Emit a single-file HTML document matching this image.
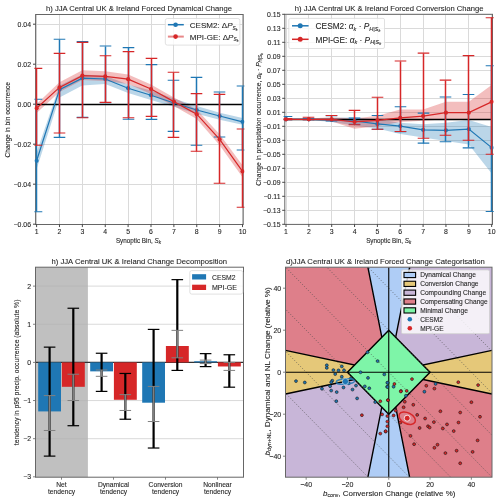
<!DOCTYPE html>
<html><head><meta charset="utf-8"><style>
html,body{margin:0;padding:0;background:#fff;}
svg{display:block;font-family:"Liberation Sans", sans-serif;will-change:transform;}
text{stroke:#262626;stroke-width:0.1px;}
</style></head><body>
<svg width="500" height="503" viewBox="0 0 500 503">
<rect width="500" height="503" fill="#fff"/>
<clipPath id="cA"><rect x="35.6" y="14.5" width="207.6" height="210"/></clipPath>
<clipPath id="cAx"><rect x="34.4" y="14.5" width="210" height="210"/></clipPath>
<line x1="36.5" y1="14.5" x2="36.5" y2="224.5" stroke="#dadada" stroke-width="1" />
<line x1="59.5" y1="14.5" x2="59.5" y2="224.5" stroke="#dadada" stroke-width="1" />
<line x1="82.5" y1="14.5" x2="82.5" y2="224.5" stroke="#dadada" stroke-width="1" />
<line x1="105.5" y1="14.5" x2="105.5" y2="224.5" stroke="#dadada" stroke-width="1" />
<line x1="128.5" y1="14.5" x2="128.5" y2="224.5" stroke="#dadada" stroke-width="1" />
<line x1="151.5" y1="14.5" x2="151.5" y2="224.5" stroke="#dadada" stroke-width="1" />
<line x1="173.5" y1="14.5" x2="173.5" y2="224.5" stroke="#dadada" stroke-width="1" />
<line x1="196.5" y1="14.5" x2="196.5" y2="224.5" stroke="#dadada" stroke-width="1" />
<line x1="219.5" y1="14.5" x2="219.5" y2="224.5" stroke="#dadada" stroke-width="1" />
<line x1="242.5" y1="14.5" x2="242.5" y2="224.5" stroke="#dadada" stroke-width="1" />
<line x1="35.6" y1="224.5" x2="243.2" y2="224.5" stroke="#dadada" stroke-width="1" />
<line x1="35.6" y1="184.5" x2="243.2" y2="184.5" stroke="#dadada" stroke-width="1" />
<line x1="35.6" y1="144.5" x2="243.2" y2="144.5" stroke="#dadada" stroke-width="1" />
<line x1="35.6" y1="104.5" x2="243.2" y2="104.5" stroke="#dadada" stroke-width="1" />
<line x1="35.6" y1="64.5" x2="243.2" y2="64.5" stroke="#dadada" stroke-width="1" />
<line x1="35.6" y1="24.5" x2="243.2" y2="24.5" stroke="#dadada" stroke-width="1" />
<g clip-path="url(#cA)">
<polygon points="36.6,152.4 59.48,85.52 82.36,74.6 105.24,75.64 128.12,84.6 151,90.4 173.88,98.44 196.76,105.92 219.64,112.64 242.52,117.96 242.52,124.68 219.64,119.84 196.76,113.84 173.88,106.84 151,100 128.12,93 105.24,84.04 82.36,85.4 59.48,97.52 36.6,169.2" fill="#1f77b4" fill-opacity="0.3"/>
<polygon points="36.6,104.12 59.48,82.36 82.36,70.32 105.24,71.36 128.12,74.4 151,84.44 173.88,97.52 196.76,109.4 219.64,134.36 242.52,165.16 242.52,177.16 219.64,145.16 196.76,119 173.88,105.92 151,94.04 128.12,84 105.24,80.96 82.36,79.92 59.48,91.96 36.6,113" fill="#d62728" fill-opacity="0.3"/>
<line x1="35.6" y1="104.5" x2="243.2" y2="104.5" stroke="#000" stroke-width="1.3" />
</g>
<rect x="35.6" y="14.5" width="207.6" height="210" fill="none" stroke="#666666" stroke-width="1"/>
<g clip-path="url(#cAx)">
<polyline points="36.6,160.8 59.48,89.6 82.36,78.2 105.24,79 128.12,88.2 151,95.2 173.88,103 196.76,110 219.64,116 242.52,121.8" fill="none" stroke="#1f77b4" stroke-width="1.2"/>
<line x1="36.5" y1="99.5" x2="36.5" y2="211.5" stroke="#1f77b4" stroke-width="1.5" />
<line x1="30.7" y1="99.2" x2="42.3" y2="99.2" stroke="#1f77b4" stroke-width="1.1" />
<line x1="30.7" y1="211.8" x2="42.3" y2="211.8" stroke="#1f77b4" stroke-width="1.1" />
<circle cx="36.6" cy="160.8" r="2.1" fill="#1f77b4"/>
<line x1="59.5" y1="39.5" x2="59.5" y2="137.5" stroke="#1f77b4" stroke-width="1.5" />
<line x1="53.7" y1="39.2" x2="65.3" y2="39.2" stroke="#1f77b4" stroke-width="1.1" />
<line x1="53.7" y1="137.4" x2="65.3" y2="137.4" stroke="#1f77b4" stroke-width="1.1" />
<circle cx="59.48" cy="89.6" r="2.1" fill="#1f77b4"/>
<line x1="82.5" y1="41.5" x2="82.5" y2="117.5" stroke="#1f77b4" stroke-width="1.5" />
<line x1="76.7" y1="41.6" x2="88.3" y2="41.6" stroke="#1f77b4" stroke-width="1.1" />
<line x1="76.7" y1="117.4" x2="88.3" y2="117.4" stroke="#1f77b4" stroke-width="1.1" />
<circle cx="82.36" cy="78.2" r="2.1" fill="#1f77b4"/>
<line x1="105.5" y1="46.5" x2="105.5" y2="102.5" stroke="#1f77b4" stroke-width="1.5" />
<line x1="99.7" y1="46" x2="111.3" y2="46" stroke="#1f77b4" stroke-width="1.1" />
<line x1="99.7" y1="102.8" x2="111.3" y2="102.8" stroke="#1f77b4" stroke-width="1.1" />
<circle cx="105.24" cy="79" r="2.1" fill="#1f77b4"/>
<line x1="128.5" y1="47.5" x2="128.5" y2="119.5" stroke="#1f77b4" stroke-width="1.5" />
<line x1="122.7" y1="47.6" x2="134.3" y2="47.6" stroke="#1f77b4" stroke-width="1.1" />
<line x1="122.7" y1="119.2" x2="134.3" y2="119.2" stroke="#1f77b4" stroke-width="1.1" />
<circle cx="128.12" cy="88.2" r="2.1" fill="#1f77b4"/>
<line x1="151.5" y1="64.5" x2="151.5" y2="119.5" stroke="#1f77b4" stroke-width="1.5" />
<line x1="145.7" y1="64.6" x2="157.3" y2="64.6" stroke="#1f77b4" stroke-width="1.1" />
<line x1="145.7" y1="119.4" x2="157.3" y2="119.4" stroke="#1f77b4" stroke-width="1.1" />
<circle cx="151" cy="95.2" r="2.1" fill="#1f77b4"/>
<line x1="173.5" y1="80.5" x2="173.5" y2="131.5" stroke="#1f77b4" stroke-width="1.5" />
<line x1="167.7" y1="80.2" x2="179.3" y2="80.2" stroke="#1f77b4" stroke-width="1.1" />
<line x1="167.7" y1="131.4" x2="179.3" y2="131.4" stroke="#1f77b4" stroke-width="1.1" />
<circle cx="173.88" cy="103" r="2.1" fill="#1f77b4"/>
<line x1="196.5" y1="77.5" x2="196.5" y2="145.5" stroke="#1f77b4" stroke-width="1.5" />
<line x1="190.7" y1="77.4" x2="202.3" y2="77.4" stroke="#1f77b4" stroke-width="1.1" />
<line x1="190.7" y1="145.2" x2="202.3" y2="145.2" stroke="#1f77b4" stroke-width="1.1" />
<circle cx="196.76" cy="110" r="2.1" fill="#1f77b4"/>
<line x1="219.5" y1="92.5" x2="219.5" y2="137.5" stroke="#1f77b4" stroke-width="1.5" />
<line x1="213.7" y1="92" x2="225.3" y2="92" stroke="#1f77b4" stroke-width="1.1" />
<line x1="213.7" y1="137" x2="225.3" y2="137" stroke="#1f77b4" stroke-width="1.1" />
<circle cx="219.64" cy="116" r="2.1" fill="#1f77b4"/>
<line x1="242.5" y1="86.5" x2="242.5" y2="150.5" stroke="#1f77b4" stroke-width="1.5" />
<line x1="236.7" y1="86" x2="248.3" y2="86" stroke="#1f77b4" stroke-width="1.1" />
<line x1="236.7" y1="150" x2="248.3" y2="150" stroke="#1f77b4" stroke-width="1.1" />
<circle cx="242.52" cy="121.8" r="2.1" fill="#1f77b4"/>
<polyline points="36.6,108.2 59.48,87.4 82.36,75.6 105.24,76.4 128.12,79.2 151,89 173.88,101.6 196.76,114.2 219.64,139.4 242.52,171.4" fill="none" stroke="#d62728" stroke-width="1.2"/>
<line x1="36.5" y1="68.5" x2="36.5" y2="145.5" stroke="#d62728" stroke-width="1.5" />
<line x1="30.7" y1="68.4" x2="42.3" y2="68.4" stroke="#d62728" stroke-width="1.1" />
<line x1="30.7" y1="145.2" x2="42.3" y2="145.2" stroke="#d62728" stroke-width="1.1" />
<circle cx="36.6" cy="108.2" r="2.1" fill="#d62728"/>
<line x1="59.5" y1="53.5" x2="59.5" y2="133.5" stroke="#d62728" stroke-width="1.5" />
<line x1="53.7" y1="53.4" x2="65.3" y2="53.4" stroke="#d62728" stroke-width="1.1" />
<line x1="53.7" y1="133" x2="65.3" y2="133" stroke="#d62728" stroke-width="1.1" />
<circle cx="59.48" cy="87.4" r="2.1" fill="#d62728"/>
<line x1="82.5" y1="42.5" x2="82.5" y2="117.5" stroke="#d62728" stroke-width="1.5" />
<line x1="76.7" y1="42.4" x2="88.3" y2="42.4" stroke="#d62728" stroke-width="1.1" />
<line x1="76.7" y1="117.8" x2="88.3" y2="117.8" stroke="#d62728" stroke-width="1.1" />
<circle cx="82.36" cy="75.6" r="2.1" fill="#d62728"/>
<line x1="105.5" y1="55.5" x2="105.5" y2="102.5" stroke="#d62728" stroke-width="1.5" />
<line x1="99.7" y1="55.8" x2="111.3" y2="55.8" stroke="#d62728" stroke-width="1.1" />
<line x1="99.7" y1="102.4" x2="111.3" y2="102.4" stroke="#d62728" stroke-width="1.1" />
<circle cx="105.24" cy="76.4" r="2.1" fill="#d62728"/>
<line x1="128.5" y1="51.5" x2="128.5" y2="117.5" stroke="#d62728" stroke-width="1.5" />
<line x1="122.7" y1="51.6" x2="134.3" y2="51.6" stroke="#d62728" stroke-width="1.1" />
<line x1="122.7" y1="117.8" x2="134.3" y2="117.8" stroke="#d62728" stroke-width="1.1" />
<circle cx="128.12" cy="79.2" r="2.1" fill="#d62728"/>
<line x1="151.5" y1="58.5" x2="151.5" y2="116.5" stroke="#d62728" stroke-width="1.5" />
<line x1="145.7" y1="58.4" x2="157.3" y2="58.4" stroke="#d62728" stroke-width="1.1" />
<line x1="145.7" y1="116.4" x2="157.3" y2="116.4" stroke="#d62728" stroke-width="1.1" />
<circle cx="151" cy="89" r="2.1" fill="#d62728"/>
<line x1="173.5" y1="72.5" x2="173.5" y2="137.5" stroke="#d62728" stroke-width="1.5" />
<line x1="167.7" y1="72.2" x2="179.3" y2="72.2" stroke="#d62728" stroke-width="1.1" />
<line x1="167.7" y1="137.4" x2="179.3" y2="137.4" stroke="#d62728" stroke-width="1.1" />
<circle cx="173.88" cy="101.6" r="2.1" fill="#d62728"/>
<line x1="196.5" y1="93.5" x2="196.5" y2="151.5" stroke="#d62728" stroke-width="1.5" />
<line x1="190.7" y1="93.6" x2="202.3" y2="93.6" stroke="#d62728" stroke-width="1.1" />
<line x1="190.7" y1="151.2" x2="202.3" y2="151.2" stroke="#d62728" stroke-width="1.1" />
<circle cx="196.76" cy="114.2" r="2.1" fill="#d62728"/>
<line x1="219.5" y1="94.5" x2="219.5" y2="183.5" stroke="#d62728" stroke-width="1.5" />
<line x1="213.7" y1="94.4" x2="225.3" y2="94.4" stroke="#d62728" stroke-width="1.1" />
<line x1="213.7" y1="183.2" x2="225.3" y2="183.2" stroke="#d62728" stroke-width="1.1" />
<circle cx="219.64" cy="139.4" r="2.1" fill="#d62728"/>
<line x1="242.5" y1="129.5" x2="242.5" y2="207.5" stroke="#d62728" stroke-width="1.5" />
<line x1="236.7" y1="129" x2="248.3" y2="129" stroke="#d62728" stroke-width="1.1" />
<line x1="236.7" y1="207.2" x2="248.3" y2="207.2" stroke="#d62728" stroke-width="1.1" />
<circle cx="242.52" cy="171.4" r="2.1" fill="#d62728"/>
</g>
<line x1="36.6" y1="224.5" x2="36.6" y2="227.1" stroke="#333333" stroke-width="0.9" />
<text x="36.6" y="234.1" font-size="6.9" text-anchor="middle" fill="#262626" >1</text>
<line x1="59.48" y1="224.5" x2="59.48" y2="227.1" stroke="#333333" stroke-width="0.9" />
<text x="59.48" y="234.1" font-size="6.9" text-anchor="middle" fill="#262626" >2</text>
<line x1="82.36" y1="224.5" x2="82.36" y2="227.1" stroke="#333333" stroke-width="0.9" />
<text x="82.36" y="234.1" font-size="6.9" text-anchor="middle" fill="#262626" >3</text>
<line x1="105.24" y1="224.5" x2="105.24" y2="227.1" stroke="#333333" stroke-width="0.9" />
<text x="105.24" y="234.1" font-size="6.9" text-anchor="middle" fill="#262626" >4</text>
<line x1="128.12" y1="224.5" x2="128.12" y2="227.1" stroke="#333333" stroke-width="0.9" />
<text x="128.12" y="234.1" font-size="6.9" text-anchor="middle" fill="#262626" >5</text>
<line x1="151" y1="224.5" x2="151" y2="227.1" stroke="#333333" stroke-width="0.9" />
<text x="151" y="234.1" font-size="6.9" text-anchor="middle" fill="#262626" >6</text>
<line x1="173.88" y1="224.5" x2="173.88" y2="227.1" stroke="#333333" stroke-width="0.9" />
<text x="173.88" y="234.1" font-size="6.9" text-anchor="middle" fill="#262626" >7</text>
<line x1="196.76" y1="224.5" x2="196.76" y2="227.1" stroke="#333333" stroke-width="0.9" />
<text x="196.76" y="234.1" font-size="6.9" text-anchor="middle" fill="#262626" >8</text>
<line x1="219.64" y1="224.5" x2="219.64" y2="227.1" stroke="#333333" stroke-width="0.9" />
<text x="219.64" y="234.1" font-size="6.9" text-anchor="middle" fill="#262626" >9</text>
<line x1="242.52" y1="224.5" x2="242.52" y2="227.1" stroke="#333333" stroke-width="0.9" />
<text x="242.52" y="234.1" font-size="6.9" text-anchor="middle" fill="#262626" >10</text>
<line x1="33" y1="224.2" x2="35.6" y2="224.2" stroke="#333333" stroke-width="0.9" />
<text x="31" y="227" font-size="6.9" text-anchor="end" fill="#262626" >−0.06</text>
<line x1="33" y1="184.2" x2="35.6" y2="184.2" stroke="#333333" stroke-width="0.9" />
<text x="31" y="187" font-size="6.9" text-anchor="end" fill="#262626" >−0.04</text>
<line x1="33" y1="144.2" x2="35.6" y2="144.2" stroke="#333333" stroke-width="0.9" />
<text x="31" y="147" font-size="6.9" text-anchor="end" fill="#262626" >−0.02</text>
<line x1="33" y1="104.2" x2="35.6" y2="104.2" stroke="#333333" stroke-width="0.9" />
<text x="31" y="107" font-size="6.9" text-anchor="end" fill="#262626" >0.00</text>
<line x1="33" y1="64.2" x2="35.6" y2="64.2" stroke="#333333" stroke-width="0.9" />
<text x="31" y="67" font-size="6.9" text-anchor="end" fill="#262626" >0.02</text>
<line x1="33" y1="24.2" x2="35.6" y2="24.2" stroke="#333333" stroke-width="0.9" />
<text x="31" y="27" font-size="6.9" text-anchor="end" fill="#262626" >0.04</text>
<text x="138.4" y="242.6" font-size="6.3" text-anchor="middle" fill="#262626" >Synoptic Bin, <tspan font-style="italic">S</tspan><tspan font-size="4.5" font-style="italic" dy="1.2">k</tspan></text>
<text x="10" y="119.7" font-size="6.3" text-anchor="middle" fill="#262626" textLength="75.5" lengthAdjust="spacingAndGlyphs" transform="rotate(-90 10 119.7)" >Change in bin occurrence</text>
<text x="46" y="11" font-size="8.1" text-anchor="start" fill="#262626" textLength="186" lengthAdjust="spacingAndGlyphs" >h) JJA Central UK &amp; Ireland Forced Dynamical Change</text>
<rect x="165.3" y="18.5" width="74.6" height="26.6" rx="2" fill="#ffffff" fill-opacity="0.8" stroke="#d9d9d9" stroke-width="0.8"/>
<line x1="167.9" y1="24.7" x2="183.8" y2="24.7" stroke="#1f77b4" stroke-width="1.5" />
<circle cx="175.6" cy="24.7" r="2.3" fill="#1f77b4"/>
<text x="189.8" y="27.7" font-size="8.0" text-anchor="start" fill="#262626" >CESM2: Δ<tspan font-style="italic">P</tspan><tspan font-size="5" font-style="italic" dy="1.8">S</tspan><tspan font-size="3.5" font-style="italic" dy="1">k</tspan></text>
<line x1="167.9" y1="36.6" x2="183.8" y2="36.6" stroke="#d62728" stroke-width="2.0" stroke-opacity="0.55"/>
<circle cx="175.6" cy="36.6" r="2.3" fill="#d62728"/>
<text x="189.8" y="39.6" font-size="8.0" text-anchor="start" fill="#262626" >MPI-GE: Δ<tspan font-style="italic">P</tspan><tspan font-size="5" font-style="italic" dy="1.8">S</tspan><tspan font-size="3.5" font-style="italic" dy="1">k</tspan></text>
<clipPath id="cB"><rect x="284.8" y="14.3" width="207.7" height="210.1"/></clipPath>
<clipPath id="cBx"><rect x="283.6" y="14.3" width="210.1" height="210.1"/></clipPath>
<line x1="286.5" y1="14.3" x2="286.5" y2="224.4" stroke="#dadada" stroke-width="1" />
<line x1="308.5" y1="14.3" x2="308.5" y2="224.4" stroke="#dadada" stroke-width="1" />
<line x1="331.5" y1="14.3" x2="331.5" y2="224.4" stroke="#dadada" stroke-width="1" />
<line x1="354.5" y1="14.3" x2="354.5" y2="224.4" stroke="#dadada" stroke-width="1" />
<line x1="377.5" y1="14.3" x2="377.5" y2="224.4" stroke="#dadada" stroke-width="1" />
<line x1="400.5" y1="14.3" x2="400.5" y2="224.4" stroke="#dadada" stroke-width="1" />
<line x1="423.5" y1="14.3" x2="423.5" y2="224.4" stroke="#dadada" stroke-width="1" />
<line x1="445.5" y1="14.3" x2="445.5" y2="224.4" stroke="#dadada" stroke-width="1" />
<line x1="468.5" y1="14.3" x2="468.5" y2="224.4" stroke="#dadada" stroke-width="1" />
<line x1="491.5" y1="14.3" x2="491.5" y2="224.4" stroke="#dadada" stroke-width="1" />
<line x1="284.8" y1="224.5" x2="492.5" y2="224.5" stroke="#dadada" stroke-width="1" />
<line x1="284.8" y1="210.5" x2="492.5" y2="210.5" stroke="#dadada" stroke-width="1" />
<line x1="284.8" y1="196.5" x2="492.5" y2="196.5" stroke="#dadada" stroke-width="1" />
<line x1="284.8" y1="182.5" x2="492.5" y2="182.5" stroke="#dadada" stroke-width="1" />
<line x1="284.8" y1="168.5" x2="492.5" y2="168.5" stroke="#dadada" stroke-width="1" />
<line x1="284.8" y1="154.5" x2="492.5" y2="154.5" stroke="#dadada" stroke-width="1" />
<line x1="284.8" y1="140.5" x2="492.5" y2="140.5" stroke="#dadada" stroke-width="1" />
<line x1="284.8" y1="126.5" x2="492.5" y2="126.5" stroke="#dadada" stroke-width="1" />
<line x1="284.8" y1="112.5" x2="492.5" y2="112.5" stroke="#dadada" stroke-width="1" />
<line x1="284.8" y1="98.5" x2="492.5" y2="98.5" stroke="#dadada" stroke-width="1" />
<line x1="284.8" y1="84.5" x2="492.5" y2="84.5" stroke="#dadada" stroke-width="1" />
<line x1="284.8" y1="70.5" x2="492.5" y2="70.5" stroke="#dadada" stroke-width="1" />
<line x1="284.8" y1="56.5" x2="492.5" y2="56.5" stroke="#dadada" stroke-width="1" />
<line x1="284.8" y1="42.5" x2="492.5" y2="42.5" stroke="#dadada" stroke-width="1" />
<line x1="284.8" y1="28.5" x2="492.5" y2="28.5" stroke="#dadada" stroke-width="1" />
<line x1="284.8" y1="14.5" x2="492.5" y2="14.5" stroke="#dadada" stroke-width="1" />
<g clip-path="url(#cB)">
<polygon points="286,118.6 308.85,118.6 331.7,117.9 354.55,117.2 377.4,119.3 400.25,122.8 423.1,124.2 445.95,122.8 468.8,120 491.65,127 491.65,173.55 468.8,144.5 445.95,141 423.1,137.5 400.25,134 377.4,128.4 354.55,125.6 331.7,122.1 308.85,120 286,120" fill="#1f77b4" fill-opacity="0.3"/>
<polygon points="286,118.6 308.85,118.6 331.7,117.2 354.55,118.6 377.4,115.8 400.25,109.5 423.1,109.5 445.95,101.8 468.8,101.8 491.65,85 491.65,119.3 468.8,119.3 445.95,119.3 423.1,120.7 400.25,122.1 377.4,126.3 354.55,128.75 331.7,121.4 308.85,120 286,120" fill="#d62728" fill-opacity="0.3"/>
<line x1="284.8" y1="119.5" x2="492.5" y2="119.5" stroke="#000" stroke-width="1.3" />
</g>
<rect x="284.8" y="14.3" width="207.7" height="210.1" fill="none" stroke="#666666" stroke-width="1"/>
<g clip-path="url(#cBx)">
<polyline points="286,119.3 308.85,119.3 331.7,120 354.55,120.98 377.4,123.92 400.25,126.09 423.1,129.8 445.95,130.36 468.8,129.1 491.65,147.65" fill="none" stroke="#1f77b4" stroke-width="1.2"/>
<line x1="286.5" y1="116.5" x2="286.5" y2="119.5" stroke="#1f77b4" stroke-width="1.5" />
<line x1="280.7" y1="116.5" x2="292.3" y2="116.5" stroke="#1f77b4" stroke-width="1.1" />
<line x1="280.7" y1="119.65" x2="292.3" y2="119.65" stroke="#1f77b4" stroke-width="1.1" />
<circle cx="286" cy="119.3" r="2.1" fill="#1f77b4"/>
<line x1="308.5" y1="118.5" x2="308.5" y2="119.5" stroke="#1f77b4" stroke-width="1.5" />
<line x1="302.7" y1="118.6" x2="314.3" y2="118.6" stroke="#1f77b4" stroke-width="1.1" />
<line x1="302.7" y1="119.65" x2="314.3" y2="119.65" stroke="#1f77b4" stroke-width="1.1" />
<circle cx="308.85" cy="119.3" r="2.1" fill="#1f77b4"/>
<line x1="331.5" y1="115.5" x2="331.5" y2="120.5" stroke="#1f77b4" stroke-width="1.5" />
<line x1="325.7" y1="115.8" x2="337.3" y2="115.8" stroke="#1f77b4" stroke-width="1.1" />
<line x1="325.7" y1="120.98" x2="337.3" y2="120.98" stroke="#1f77b4" stroke-width="1.1" />
<circle cx="331.7" cy="120" r="2.1" fill="#1f77b4"/>
<line x1="354.5" y1="118.5" x2="354.5" y2="124.5" stroke="#1f77b4" stroke-width="1.5" />
<line x1="348.7" y1="118.11" x2="360.3" y2="118.11" stroke="#1f77b4" stroke-width="1.1" />
<line x1="348.7" y1="124.2" x2="360.3" y2="124.2" stroke="#1f77b4" stroke-width="1.1" />
<circle cx="354.55" cy="120.98" r="2.1" fill="#1f77b4"/>
<line x1="377.5" y1="115.5" x2="377.5" y2="129.5" stroke="#1f77b4" stroke-width="1.5" />
<line x1="371.7" y1="115.45" x2="383.3" y2="115.45" stroke="#1f77b4" stroke-width="1.1" />
<line x1="371.7" y1="129.24" x2="383.3" y2="129.24" stroke="#1f77b4" stroke-width="1.1" />
<circle cx="377.4" cy="123.92" r="2.1" fill="#1f77b4"/>
<line x1="400.5" y1="106.5" x2="400.5" y2="131.5" stroke="#1f77b4" stroke-width="1.5" />
<line x1="394.7" y1="106.7" x2="406.3" y2="106.7" stroke="#1f77b4" stroke-width="1.1" />
<line x1="394.7" y1="131.76" x2="406.3" y2="131.76" stroke="#1f77b4" stroke-width="1.1" />
<circle cx="400.25" cy="126.09" r="2.1" fill="#1f77b4"/>
<line x1="423.5" y1="113.5" x2="423.5" y2="143.5" stroke="#1f77b4" stroke-width="1.5" />
<line x1="417.7" y1="113.14" x2="429.3" y2="113.14" stroke="#1f77b4" stroke-width="1.1" />
<line x1="417.7" y1="143.1" x2="429.3" y2="143.1" stroke="#1f77b4" stroke-width="1.1" />
<circle cx="423.1" cy="129.8" r="2.1" fill="#1f77b4"/>
<line x1="445.5" y1="97.5" x2="445.5" y2="141.5" stroke="#1f77b4" stroke-width="1.5" />
<line x1="439.7" y1="97.04" x2="451.3" y2="97.04" stroke="#1f77b4" stroke-width="1.1" />
<line x1="439.7" y1="141.7" x2="451.3" y2="141.7" stroke="#1f77b4" stroke-width="1.1" />
<circle cx="445.95" cy="130.36" r="2.1" fill="#1f77b4"/>
<line x1="468.5" y1="94.5" x2="468.5" y2="147.5" stroke="#1f77b4" stroke-width="1.5" />
<line x1="462.7" y1="94.45" x2="474.3" y2="94.45" stroke="#1f77b4" stroke-width="1.1" />
<line x1="462.7" y1="147.86" x2="474.3" y2="147.86" stroke="#1f77b4" stroke-width="1.1" />
<circle cx="468.8" cy="129.1" r="2.1" fill="#1f77b4"/>
<line x1="491.5" y1="65.5" x2="491.5" y2="211.5" stroke="#1f77b4" stroke-width="1.5" />
<line x1="485.7" y1="65.82" x2="497.3" y2="65.82" stroke="#1f77b4" stroke-width="1.1" />
<line x1="485.7" y1="211.49" x2="497.3" y2="211.49" stroke="#1f77b4" stroke-width="1.1" />
<circle cx="491.65" cy="147.65" r="2.1" fill="#1f77b4"/>
<polyline points="286,119.3 308.85,119.3 331.7,119.3 354.55,121.82 377.4,120.28 400.25,117.97 423.1,116.08 445.95,112.65 468.8,112.65 491.65,101.87" fill="none" stroke="#d62728" stroke-width="1.2"/>
<line x1="286.5" y1="118.5" x2="286.5" y2="119.5" stroke="#d62728" stroke-width="1.5" />
<line x1="280.7" y1="118.6" x2="292.3" y2="118.6" stroke="#d62728" stroke-width="1.1" />
<line x1="280.7" y1="119.65" x2="292.3" y2="119.65" stroke="#d62728" stroke-width="1.1" />
<circle cx="286" cy="119.3" r="2.1" fill="#d62728"/>
<line x1="308.5" y1="117.5" x2="308.5" y2="119.5" stroke="#d62728" stroke-width="1.5" />
<line x1="302.7" y1="117.2" x2="314.3" y2="117.2" stroke="#d62728" stroke-width="1.1" />
<line x1="302.7" y1="119.65" x2="314.3" y2="119.65" stroke="#d62728" stroke-width="1.1" />
<circle cx="308.85" cy="119.3" r="2.1" fill="#d62728"/>
<line x1="331.5" y1="115.5" x2="331.5" y2="120.5" stroke="#d62728" stroke-width="1.5" />
<line x1="325.7" y1="115.45" x2="337.3" y2="115.45" stroke="#d62728" stroke-width="1.1" />
<line x1="325.7" y1="120" x2="337.3" y2="120" stroke="#d62728" stroke-width="1.1" />
<circle cx="331.7" cy="119.3" r="2.1" fill="#d62728"/>
<line x1="354.5" y1="110.5" x2="354.5" y2="124.5" stroke="#d62728" stroke-width="1.5" />
<line x1="348.7" y1="110.34" x2="360.3" y2="110.34" stroke="#d62728" stroke-width="1.1" />
<line x1="348.7" y1="124.76" x2="360.3" y2="124.76" stroke="#d62728" stroke-width="1.1" />
<circle cx="354.55" cy="121.82" r="2.1" fill="#d62728"/>
<line x1="377.5" y1="97.5" x2="377.5" y2="129.5" stroke="#d62728" stroke-width="1.5" />
<line x1="371.7" y1="97.25" x2="383.3" y2="97.25" stroke="#d62728" stroke-width="1.1" />
<line x1="371.7" y1="129.24" x2="383.3" y2="129.24" stroke="#d62728" stroke-width="1.1" />
<circle cx="377.4" cy="120.28" r="2.1" fill="#d62728"/>
<line x1="400.5" y1="61.5" x2="400.5" y2="131.5" stroke="#d62728" stroke-width="1.5" />
<line x1="394.7" y1="61.06" x2="406.3" y2="61.06" stroke="#d62728" stroke-width="1.1" />
<line x1="394.7" y1="131.55" x2="406.3" y2="131.55" stroke="#d62728" stroke-width="1.1" />
<circle cx="400.25" cy="117.97" r="2.1" fill="#d62728"/>
<line x1="423.5" y1="53.5" x2="423.5" y2="138.5" stroke="#d62728" stroke-width="1.5" />
<line x1="417.7" y1="53.15" x2="429.3" y2="53.15" stroke="#d62728" stroke-width="1.1" />
<line x1="417.7" y1="138.2" x2="429.3" y2="138.2" stroke="#d62728" stroke-width="1.1" />
<circle cx="423.1" cy="116.08" r="2.1" fill="#d62728"/>
<line x1="445.5" y1="80.5" x2="445.5" y2="135.5" stroke="#d62728" stroke-width="1.5" />
<line x1="439.7" y1="80.1" x2="451.3" y2="80.1" stroke="#d62728" stroke-width="1.1" />
<line x1="439.7" y1="135.19" x2="451.3" y2="135.19" stroke="#d62728" stroke-width="1.1" />
<circle cx="445.95" cy="112.65" r="2.1" fill="#d62728"/>
<line x1="468.5" y1="55.5" x2="468.5" y2="140.5" stroke="#d62728" stroke-width="1.5" />
<line x1="462.7" y1="55.6" x2="474.3" y2="55.6" stroke="#d62728" stroke-width="1.1" />
<line x1="462.7" y1="140.3" x2="474.3" y2="140.3" stroke="#d62728" stroke-width="1.1" />
<circle cx="468.8" cy="112.65" r="2.1" fill="#d62728"/>
<line x1="491.5" y1="17.5" x2="491.5" y2="154.5" stroke="#d62728" stroke-width="1.5" />
<line x1="485.7" y1="17.8" x2="497.3" y2="17.8" stroke="#d62728" stroke-width="1.1" />
<line x1="485.7" y1="154.3" x2="497.3" y2="154.3" stroke="#d62728" stroke-width="1.1" />
<circle cx="491.65" cy="101.87" r="2.1" fill="#d62728"/>
</g>
<line x1="286" y1="224.4" x2="286" y2="227" stroke="#333333" stroke-width="0.9" />
<text x="286" y="234" font-size="6.9" text-anchor="middle" fill="#262626" >1</text>
<line x1="308.85" y1="224.4" x2="308.85" y2="227" stroke="#333333" stroke-width="0.9" />
<text x="308.85" y="234" font-size="6.9" text-anchor="middle" fill="#262626" >2</text>
<line x1="331.7" y1="224.4" x2="331.7" y2="227" stroke="#333333" stroke-width="0.9" />
<text x="331.7" y="234" font-size="6.9" text-anchor="middle" fill="#262626" >3</text>
<line x1="354.55" y1="224.4" x2="354.55" y2="227" stroke="#333333" stroke-width="0.9" />
<text x="354.55" y="234" font-size="6.9" text-anchor="middle" fill="#262626" >4</text>
<line x1="377.4" y1="224.4" x2="377.4" y2="227" stroke="#333333" stroke-width="0.9" />
<text x="377.4" y="234" font-size="6.9" text-anchor="middle" fill="#262626" >5</text>
<line x1="400.25" y1="224.4" x2="400.25" y2="227" stroke="#333333" stroke-width="0.9" />
<text x="400.25" y="234" font-size="6.9" text-anchor="middle" fill="#262626" >6</text>
<line x1="423.1" y1="224.4" x2="423.1" y2="227" stroke="#333333" stroke-width="0.9" />
<text x="423.1" y="234" font-size="6.9" text-anchor="middle" fill="#262626" >7</text>
<line x1="445.95" y1="224.4" x2="445.95" y2="227" stroke="#333333" stroke-width="0.9" />
<text x="445.95" y="234" font-size="6.9" text-anchor="middle" fill="#262626" >8</text>
<line x1="468.8" y1="224.4" x2="468.8" y2="227" stroke="#333333" stroke-width="0.9" />
<text x="468.8" y="234" font-size="6.9" text-anchor="middle" fill="#262626" >9</text>
<line x1="491.65" y1="224.4" x2="491.65" y2="227" stroke="#333333" stroke-width="0.9" />
<text x="491.65" y="234" font-size="6.9" text-anchor="middle" fill="#262626" >10</text>
<line x1="282.2" y1="224.3" x2="284.8" y2="224.3" stroke="#333333" stroke-width="0.9" />
<text x="280.5" y="227.1" font-size="6.9" text-anchor="end" fill="#262626" >−0.15</text>
<line x1="282.2" y1="210.3" x2="284.8" y2="210.3" stroke="#333333" stroke-width="0.9" />
<text x="280.5" y="213.1" font-size="6.9" text-anchor="end" fill="#262626" >−0.13</text>
<line x1="282.2" y1="196.3" x2="284.8" y2="196.3" stroke="#333333" stroke-width="0.9" />
<text x="280.5" y="199.1" font-size="6.9" text-anchor="end" fill="#262626" >−0.11</text>
<line x1="282.2" y1="182.3" x2="284.8" y2="182.3" stroke="#333333" stroke-width="0.9" />
<text x="280.5" y="185.1" font-size="6.9" text-anchor="end" fill="#262626" >−0.09</text>
<line x1="282.2" y1="168.3" x2="284.8" y2="168.3" stroke="#333333" stroke-width="0.9" />
<text x="280.5" y="171.1" font-size="6.9" text-anchor="end" fill="#262626" >−0.07</text>
<line x1="282.2" y1="154.3" x2="284.8" y2="154.3" stroke="#333333" stroke-width="0.9" />
<text x="280.5" y="157.1" font-size="6.9" text-anchor="end" fill="#262626" >−0.05</text>
<line x1="282.2" y1="140.3" x2="284.8" y2="140.3" stroke="#333333" stroke-width="0.9" />
<text x="280.5" y="143.1" font-size="6.9" text-anchor="end" fill="#262626" >−0.03</text>
<line x1="282.2" y1="126.3" x2="284.8" y2="126.3" stroke="#333333" stroke-width="0.9" />
<text x="280.5" y="129.1" font-size="6.9" text-anchor="end" fill="#262626" >−0.01</text>
<line x1="282.2" y1="112.3" x2="284.8" y2="112.3" stroke="#333333" stroke-width="0.9" />
<text x="280.5" y="115.1" font-size="6.9" text-anchor="end" fill="#262626" >0.01</text>
<line x1="282.2" y1="98.3" x2="284.8" y2="98.3" stroke="#333333" stroke-width="0.9" />
<text x="280.5" y="101.1" font-size="6.9" text-anchor="end" fill="#262626" >0.03</text>
<line x1="282.2" y1="84.3" x2="284.8" y2="84.3" stroke="#333333" stroke-width="0.9" />
<text x="280.5" y="87.1" font-size="6.9" text-anchor="end" fill="#262626" >0.05</text>
<line x1="282.2" y1="70.3" x2="284.8" y2="70.3" stroke="#333333" stroke-width="0.9" />
<text x="280.5" y="73.1" font-size="6.9" text-anchor="end" fill="#262626" >0.07</text>
<line x1="282.2" y1="56.3" x2="284.8" y2="56.3" stroke="#333333" stroke-width="0.9" />
<text x="280.5" y="59.1" font-size="6.9" text-anchor="end" fill="#262626" >0.09</text>
<line x1="282.2" y1="42.3" x2="284.8" y2="42.3" stroke="#333333" stroke-width="0.9" />
<text x="280.5" y="45.1" font-size="6.9" text-anchor="end" fill="#262626" >0.11</text>
<line x1="282.2" y1="28.3" x2="284.8" y2="28.3" stroke="#333333" stroke-width="0.9" />
<text x="280.5" y="31.1" font-size="6.9" text-anchor="end" fill="#262626" >0.13</text>
<line x1="282.2" y1="14.3" x2="284.8" y2="14.3" stroke="#333333" stroke-width="0.9" />
<text x="280.5" y="17.1" font-size="6.9" text-anchor="end" fill="#262626" >0.15</text>
<text x="388.65" y="242.6" font-size="6.3" text-anchor="middle" fill="#262626" >Synoptic Bin, <tspan font-style="italic">S</tspan><tspan font-size="4.5" font-style="italic" dy="1.2">k</tspan></text>
<text x="261.3" y="119.5" font-size="6.6" text-anchor="middle" fill="#262626" textLength="132.5" lengthAdjust="spacingAndGlyphs" transform="rotate(-90 261.3 119.5)" >Change in precipitation occurrence, <tspan font-style="italic">α</tspan><tspan font-size="4.5" font-style="italic" dy="1.2">k</tspan><tspan dy="-1.2"> · </tspan><tspan font-style="italic">P</tspan><tspan font-size="4.5" font-style="italic" dy="1.2">H|S</tspan><tspan font-size="3.2" font-style="italic" dy="0.8">k</tspan></text>
<text x="294.8" y="11" font-size="8.1" text-anchor="start" fill="#262626" textLength="188.8" lengthAdjust="spacingAndGlyphs" >h) JJA Central UK &amp; Ireland Forced Conversion Change</text>
<rect x="288.8" y="18.4" width="95.7" height="30.1" rx="1.5" fill="#ffffff" fill-opacity="0.8" stroke="#d9d9d9" stroke-width="0.8"/>
<line x1="292" y1="25.8" x2="308.6" y2="25.8" stroke="#1f77b4" stroke-width="1.5" />
<circle cx="300.2" cy="25.8" r="2.5" fill="#1f77b4"/>
<text x="315.6" y="29.1" font-size="9.0" text-anchor="start" fill="#262626" textLength="64.8" lengthAdjust="spacingAndGlyphs" >CESM2: <tspan font-style="italic">α</tspan><tspan font-size="6" font-style="italic" dy="1.8">k</tspan><tspan dy="-1.8"> · </tspan><tspan font-style="italic">P</tspan><tspan font-size="6" font-style="italic" dy="1.8">H|S</tspan><tspan font-size="4.2" font-style="italic" dy="1">k</tspan></text>
<line x1="292" y1="39.3" x2="308.6" y2="39.3" stroke="#d62728" stroke-width="1.5" />
<circle cx="300.2" cy="39.3" r="2.5" fill="#d62728"/>
<text x="315.6" y="42.6" font-size="9.0" text-anchor="start" fill="#262626" textLength="65.6" lengthAdjust="spacingAndGlyphs" >MPI-GE: <tspan font-style="italic">α</tspan><tspan font-size="6" font-style="italic" dy="1.8">k</tspan><tspan dy="-1.8"> · </tspan><tspan font-style="italic">P</tspan><tspan font-size="6" font-style="italic" dy="1.8">H|S</tspan><tspan font-size="4.2" font-style="italic" dy="1">k</tspan></text>
<rect x="35.5" y="267.2" width="52.4" height="210" fill="#c0c0c0"/>
<line x1="35.5" y1="438.68" x2="243.5" y2="438.68" stroke="#b0b0b0" stroke-width="0.8" stroke-opacity="0.6"/>
<line x1="35.5" y1="400.54" x2="243.5" y2="400.54" stroke="#b0b0b0" stroke-width="0.8" stroke-opacity="0.6"/>
<line x1="35.5" y1="324.26" x2="243.5" y2="324.26" stroke="#b0b0b0" stroke-width="0.8" stroke-opacity="0.6"/>
<line x1="35.5" y1="286.12" x2="243.5" y2="286.12" stroke="#b0b0b0" stroke-width="0.8" stroke-opacity="0.6"/>
<line x1="35.5" y1="362.4" x2="243.5" y2="362.4" stroke="#333" stroke-width="1.2" />
<rect x="38.2" y="362.4" width="22.8" height="49.01" fill="#1f77b4"/>
<rect x="61.9" y="362.4" width="22.9" height="24.41" fill="#d62728"/>
<rect x="90.2" y="362.4" width="22.8" height="8.96" fill="#1f77b4"/>
<rect x="113.9" y="362.4" width="22.9" height="37.38" fill="#d62728"/>
<rect x="142.2" y="362.4" width="22.8" height="40.31" fill="#1f77b4"/>
<rect x="165.9" y="346" width="22.9" height="16.4" fill="#d62728"/>
<rect x="194.2" y="361.26" width="22.8" height="1.14" fill="#1f77b4"/>
<rect x="217.9" y="362.4" width="22.9" height="4.08" fill="#d62728"/>
<line x1="49.6" y1="456.11" x2="49.6" y2="347.14" stroke="#000" stroke-width="2.2" />
<line x1="43.8" y1="456.11" x2="55.4" y2="456.11" stroke="#000" stroke-width="1.2" />
<line x1="43.8" y1="347.14" x2="55.4" y2="347.14" stroke="#000" stroke-width="1.2" />
<line x1="49.6" y1="430.48" x2="49.6" y2="395.58" stroke="#808080" stroke-width="1.9" />
<line x1="43.8" y1="430.48" x2="55.4" y2="430.48" stroke="#808080" stroke-width="1.0" />
<line x1="43.8" y1="395.58" x2="55.4" y2="395.58" stroke="#808080" stroke-width="1.0" />
<line x1="73.3" y1="425.71" x2="73.3" y2="308.24" stroke="#000" stroke-width="2.2" />
<line x1="67.5" y1="425.71" x2="79.1" y2="425.71" stroke="#000" stroke-width="1.2" />
<line x1="67.5" y1="308.24" x2="79.1" y2="308.24" stroke="#000" stroke-width="1.2" />
<line x1="73.3" y1="400.54" x2="73.3" y2="374.22" stroke="#808080" stroke-width="1.9" />
<line x1="67.5" y1="400.54" x2="79.1" y2="400.54" stroke="#808080" stroke-width="1.0" />
<line x1="67.5" y1="374.22" x2="79.1" y2="374.22" stroke="#808080" stroke-width="1.0" />
<line x1="101.6" y1="391.39" x2="101.6" y2="353.25" stroke="#000" stroke-width="2.2" />
<line x1="95.8" y1="391.39" x2="107.4" y2="391.39" stroke="#000" stroke-width="1.2" />
<line x1="95.8" y1="353.25" x2="107.4" y2="353.25" stroke="#000" stroke-width="1.2" />
<line x1="101.6" y1="376.32" x2="101.6" y2="370.03" stroke="#808080" stroke-width="1.9" />
<line x1="95.8" y1="376.32" x2="107.4" y2="376.32" stroke="#808080" stroke-width="1.0" />
<line x1="95.8" y1="370.03" x2="107.4" y2="370.03" stroke="#808080" stroke-width="1.0" />
<line x1="125.3" y1="419.23" x2="125.3" y2="373.46" stroke="#000" stroke-width="2.2" />
<line x1="119.5" y1="419.23" x2="131.1" y2="419.23" stroke="#000" stroke-width="1.2" />
<line x1="119.5" y1="373.46" x2="131.1" y2="373.46" stroke="#000" stroke-width="1.2" />
<line x1="125.3" y1="410.46" x2="125.3" y2="394.63" stroke="#808080" stroke-width="1.9" />
<line x1="119.5" y1="410.46" x2="131.1" y2="410.46" stroke="#808080" stroke-width="1.0" />
<line x1="119.5" y1="394.63" x2="131.1" y2="394.63" stroke="#808080" stroke-width="1.0" />
<line x1="153.6" y1="448.02" x2="153.6" y2="329.41" stroke="#000" stroke-width="2.2" />
<line x1="147.8" y1="448.02" x2="159.4" y2="448.02" stroke="#000" stroke-width="1.2" />
<line x1="147.8" y1="329.41" x2="159.4" y2="329.41" stroke="#000" stroke-width="1.2" />
<line x1="153.6" y1="421.52" x2="153.6" y2="386.43" stroke="#808080" stroke-width="1.9" />
<line x1="147.8" y1="421.52" x2="159.4" y2="421.52" stroke="#808080" stroke-width="1.0" />
<line x1="147.8" y1="386.43" x2="159.4" y2="386.43" stroke="#808080" stroke-width="1.0" />
<line x1="177.3" y1="370.41" x2="177.3" y2="279.64" stroke="#000" stroke-width="2.2" />
<line x1="171.5" y1="370.41" x2="183.1" y2="370.41" stroke="#000" stroke-width="1.2" />
<line x1="171.5" y1="279.64" x2="183.1" y2="279.64" stroke="#000" stroke-width="1.2" />
<line x1="177.3" y1="357.82" x2="177.3" y2="330.36" stroke="#808080" stroke-width="1.9" />
<line x1="171.5" y1="357.82" x2="183.1" y2="357.82" stroke="#808080" stroke-width="1.0" />
<line x1="171.5" y1="330.36" x2="183.1" y2="330.36" stroke="#808080" stroke-width="1.0" />
<line x1="205.6" y1="366.6" x2="205.6" y2="353.63" stroke="#000" stroke-width="2.2" />
<line x1="199.8" y1="366.6" x2="211.4" y2="366.6" stroke="#000" stroke-width="1.2" />
<line x1="199.8" y1="353.63" x2="211.4" y2="353.63" stroke="#000" stroke-width="1.2" />
<line x1="205.6" y1="363.54" x2="205.6" y2="360.11" stroke="#808080" stroke-width="1.9" />
<line x1="199.8" y1="363.54" x2="211.4" y2="363.54" stroke="#808080" stroke-width="1.0" />
<line x1="199.8" y1="360.11" x2="211.4" y2="360.11" stroke="#808080" stroke-width="1.0" />
<line x1="229.3" y1="387.19" x2="229.3" y2="354.77" stroke="#000" stroke-width="2.2" />
<line x1="223.5" y1="387.19" x2="235.1" y2="387.19" stroke="#000" stroke-width="1.2" />
<line x1="223.5" y1="354.77" x2="235.1" y2="354.77" stroke="#000" stroke-width="1.2" />
<line x1="229.3" y1="370.41" x2="229.3" y2="362.4" stroke="#808080" stroke-width="1.9" />
<line x1="223.5" y1="370.41" x2="235.1" y2="370.41" stroke="#808080" stroke-width="1.0" />
<line x1="223.5" y1="362.4" x2="235.1" y2="362.4" stroke="#808080" stroke-width="1.0" />
<rect x="35.5" y="267.2" width="208" height="210" fill="none" stroke="#666666" stroke-width="1"/>
<line x1="33" y1="476.82" x2="35.5" y2="476.82" stroke="#666666" stroke-width="0.8" />
<text x="31" y="479.22" font-size="6.9" text-anchor="end" fill="#262626" >−3</text>
<line x1="33" y1="438.68" x2="35.5" y2="438.68" stroke="#666666" stroke-width="0.8" />
<text x="31" y="441.08" font-size="6.9" text-anchor="end" fill="#262626" >−2</text>
<line x1="33" y1="400.54" x2="35.5" y2="400.54" stroke="#666666" stroke-width="0.8" />
<text x="31" y="402.94" font-size="6.9" text-anchor="end" fill="#262626" >−1</text>
<line x1="33" y1="362.4" x2="35.5" y2="362.4" stroke="#666666" stroke-width="0.8" />
<text x="31" y="364.8" font-size="6.9" text-anchor="end" fill="#262626" >0</text>
<line x1="33" y1="324.26" x2="35.5" y2="324.26" stroke="#666666" stroke-width="0.8" />
<text x="31" y="326.66" font-size="6.9" text-anchor="end" fill="#262626" >1</text>
<line x1="33" y1="286.12" x2="35.5" y2="286.12" stroke="#666666" stroke-width="0.8" />
<text x="31" y="288.52" font-size="6.9" text-anchor="end" fill="#262626" >2</text>
<line x1="61.5" y1="477.2" x2="61.5" y2="479.7" stroke="#666666" stroke-width="0.8" />
<text x="61.5" y="486.8" font-size="6.7" text-anchor="middle" fill="#262626" >Net</text>
<text x="61.5" y="494" font-size="6.7" text-anchor="middle" fill="#262626" >tendency</text>
<line x1="113.5" y1="477.2" x2="113.5" y2="479.7" stroke="#666666" stroke-width="0.8" />
<text x="113.5" y="486.8" font-size="6.7" text-anchor="middle" fill="#262626" >Dynamical</text>
<text x="113.5" y="494" font-size="6.7" text-anchor="middle" fill="#262626" >tendency</text>
<line x1="165.5" y1="477.2" x2="165.5" y2="479.7" stroke="#666666" stroke-width="0.8" />
<text x="165.5" y="486.8" font-size="6.7" text-anchor="middle" fill="#262626" >Conversion</text>
<text x="165.5" y="494" font-size="6.7" text-anchor="middle" fill="#262626" >tendency</text>
<line x1="217.5" y1="477.2" x2="217.5" y2="479.7" stroke="#666666" stroke-width="0.8" />
<text x="217.5" y="486.8" font-size="6.7" text-anchor="middle" fill="#262626" >Nonlinear</text>
<text x="217.5" y="494" font-size="6.7" text-anchor="middle" fill="#262626" >tendency</text>
<text x="19.2" y="372.4" font-size="6.6" text-anchor="middle" fill="#262626" textLength="145.6" lengthAdjust="spacingAndGlyphs" transform="rotate(-90 19.2 372.4)" >tendency in p95 precip. occurrence (absolute %)</text>
<text x="51.5" y="263.6" font-size="8.1" text-anchor="start" fill="#262626" textLength="175.5" lengthAdjust="spacingAndGlyphs" >h) JJA Central UK &amp; Ireland Change Decomposition</text>
<rect x="189.8" y="270.6" width="53" height="23.5" rx="2" fill="#ffffff" fill-opacity="0.8" stroke="#d9d9d9" stroke-width="0.8"/>
<rect x="192.1" y="274.2" width="14" height="5.3" fill="#1f77b4"/>
<rect x="192.1" y="284.7" width="14" height="5.3" fill="#d62728"/>
<text x="212" y="279.6" font-size="7.6" text-anchor="start" fill="#262626" textLength="23.5" lengthAdjust="spacingAndGlyphs" >CESM2</text>
<text x="212" y="290.1" font-size="7.6" text-anchor="start" fill="#262626" textLength="25" lengthAdjust="spacingAndGlyphs" >MPI-GE</text>
<clipPath id="cD"><rect x="285.5" y="267.2" width="206.5" height="210"/></clipPath>
<g clip-path="url(#cD)">
<rect x="285.5" y="267.2" width="206.5" height="210" fill="#c8b6d8"/>
<polygon points="285.5,350.36 285.5,267.2 367.89,267.2 388.75,372.2" fill="#de7f8a"/>
<polygon points="492,394.04 492,477.2 409.61,477.2 388.75,372.2" fill="#de7f8a"/>
<polygon points="367.89,267.2 409.61,267.2 388.75,372.2" fill="#afcdf6" fill-opacity="1"/>
<polygon points="367.89,477.2 409.61,477.2 388.75,372.2" fill="#afcdf6" fill-opacity="1"/>
<polygon points="285.5,350.36 285.5,394.04 388.75,372.2" fill="#e5c879" fill-opacity="1"/>
<polygon points="492,350.36 492,394.04 388.75,372.2" fill="#e5c879" fill-opacity="1"/>
<polyline points="367.89,267.2 388.75,372.2 409.61,267.2" fill="none" stroke="#000" stroke-width="1.4"/>
<polyline points="367.89,477.2 388.75,372.2 409.61,477.2" fill="none" stroke="#000" stroke-width="1.4"/>
<polyline points="285.5,350.36 388.75,372.2 285.5,394.04" fill="none" stroke="#000" stroke-width="1.4"/>
<polyline points="492,350.36 388.75,372.2 492,394.04" fill="none" stroke="#000" stroke-width="1.4"/>
<polygon points="430.05,372.2 388.75,330.2 347.45,372.2 388.75,414.2" fill="#7ef5a8" stroke="#000" stroke-width="1.5"/>
<line x1="140.95" y1="246.2" x2="388.75" y2="498.2" stroke="#4a4a4a" stroke-width="0.8" stroke-dasharray="1 1.8" stroke-opacity="0.85"/>
<line x1="182.25" y1="246.2" x2="430.05" y2="498.2" stroke="#4a4a4a" stroke-width="0.8" stroke-dasharray="1 1.8" stroke-opacity="0.85"/>
<line x1="223.55" y1="246.2" x2="471.35" y2="498.2" stroke="#4a4a4a" stroke-width="0.8" stroke-dasharray="1 1.8" stroke-opacity="0.85"/>
<line x1="264.85" y1="246.2" x2="512.65" y2="498.2" stroke="#4a4a4a" stroke-width="0.8" stroke-dasharray="1 1.8" stroke-opacity="0.85"/>
<line x1="306.15" y1="246.2" x2="553.95" y2="498.2" stroke="#4a4a4a" stroke-width="0.8" stroke-dasharray="1 1.8" stroke-opacity="0.85"/>
<line x1="347.45" y1="246.2" x2="595.25" y2="498.2" stroke="#4a4a4a" stroke-width="0.8" stroke-dasharray="1 1.8" stroke-opacity="0.85"/>
<line x1="388.75" y1="246.2" x2="636.55" y2="498.2" stroke="#4a4a4a" stroke-width="0.8" stroke-dasharray="1 1.8" stroke-opacity="0.85"/>
<line x1="388.75" y1="267.2" x2="388.75" y2="477.2" stroke="#000" stroke-width="1.1" />
<line x1="285.5" y1="372.2" x2="492" y2="372.2" stroke="#000" stroke-width="1.1" />
<circle cx="367.5" cy="352.3" r="1.45" fill="#1f77b4" stroke="#1a1a1a" stroke-width="0.6"/>
<circle cx="377.6" cy="361.1" r="1.45" fill="#1f77b4" stroke="#1a1a1a" stroke-width="0.6"/>
<circle cx="326.8" cy="365.3" r="1.45" fill="#1f77b4" stroke="#1a1a1a" stroke-width="0.6"/>
<circle cx="326.8" cy="367.9" r="1.45" fill="#1f77b4" stroke="#1a1a1a" stroke-width="0.6"/>
<circle cx="341.8" cy="366.4" r="1.45" fill="#1f77b4" stroke="#1a1a1a" stroke-width="0.6"/>
<circle cx="333.4" cy="370.1" r="1.45" fill="#1f77b4" stroke="#1a1a1a" stroke-width="0.6"/>
<circle cx="338.5" cy="370.4" r="1.45" fill="#1f77b4" stroke="#1a1a1a" stroke-width="0.6"/>
<circle cx="344" cy="370.4" r="1.45" fill="#1f77b4" stroke="#1a1a1a" stroke-width="0.6"/>
<circle cx="360.5" cy="372.3" r="1.45" fill="#1f77b4" stroke="#1a1a1a" stroke-width="0.6"/>
<circle cx="335.2" cy="374.1" r="1.45" fill="#1f77b4" stroke="#1a1a1a" stroke-width="0.6"/>
<circle cx="384.3" cy="374.4" r="1.45" fill="#1f77b4" stroke="#1a1a1a" stroke-width="0.6"/>
<circle cx="341.8" cy="376.7" r="1.45" fill="#1f77b4" stroke="#1a1a1a" stroke-width="0.6"/>
<circle cx="368" cy="377.9" r="1.45" fill="#1f77b4" stroke="#1a1a1a" stroke-width="0.6"/>
<circle cx="350.9" cy="378.4" r="1.45" fill="#1f77b4" stroke="#1a1a1a" stroke-width="0.6"/>
<circle cx="296" cy="381.1" r="1.45" fill="#1f77b4" stroke="#1a1a1a" stroke-width="0.6"/>
<circle cx="304.8" cy="382.5" r="1.45" fill="#1f77b4" stroke="#1a1a1a" stroke-width="0.6"/>
<circle cx="332.3" cy="380.7" r="1.45" fill="#1f77b4" stroke="#1a1a1a" stroke-width="0.6"/>
<circle cx="331.2" cy="382.2" r="1.45" fill="#1f77b4" stroke="#1a1a1a" stroke-width="0.6"/>
<circle cx="348.8" cy="383.3" r="1.45" fill="#1f77b4" stroke="#1a1a1a" stroke-width="0.6"/>
<circle cx="387.7" cy="382.9" r="1.45" fill="#1f77b4" stroke="#1a1a1a" stroke-width="0.6"/>
<circle cx="330.1" cy="386.2" r="1.45" fill="#1f77b4" stroke="#1a1a1a" stroke-width="0.6"/>
<circle cx="356" cy="385.6" r="1.45" fill="#1f77b4" stroke="#1a1a1a" stroke-width="0.6"/>
<circle cx="364.8" cy="386.4" r="1.45" fill="#1f77b4" stroke="#1a1a1a" stroke-width="0.6"/>
<circle cx="369.3" cy="388.3" r="1.45" fill="#1f77b4" stroke="#1a1a1a" stroke-width="0.6"/>
<circle cx="387.2" cy="386.7" r="1.45" fill="#1f77b4" stroke="#1a1a1a" stroke-width="0.6"/>
<circle cx="393.6" cy="386.7" r="1.45" fill="#1f77b4" stroke="#1a1a1a" stroke-width="0.6"/>
<circle cx="322" cy="388.8" r="1.45" fill="#1f77b4" stroke="#1a1a1a" stroke-width="0.6"/>
<circle cx="343.5" cy="387.5" r="1.45" fill="#1f77b4" stroke="#1a1a1a" stroke-width="0.6"/>
<circle cx="331.2" cy="390.6" r="1.45" fill="#1f77b4" stroke="#1a1a1a" stroke-width="0.6"/>
<circle cx="336.7" cy="392.1" r="1.45" fill="#1f77b4" stroke="#1a1a1a" stroke-width="0.6"/>
<circle cx="352.5" cy="389.6" r="1.45" fill="#1f77b4" stroke="#1a1a1a" stroke-width="0.6"/>
<circle cx="357.1" cy="398.4" r="1.45" fill="#1f77b4" stroke="#1a1a1a" stroke-width="0.6"/>
<circle cx="336.3" cy="401.2" r="1.45" fill="#1f77b4" stroke="#1a1a1a" stroke-width="0.6"/>
<circle cx="375.2" cy="402.1" r="1.45" fill="#1f77b4" stroke="#1a1a1a" stroke-width="0.6"/>
<circle cx="405.9" cy="395.7" r="1.45" fill="#1f77b4" stroke="#1a1a1a" stroke-width="0.6"/>
<circle cx="435.6" cy="383.9" r="1.45" fill="#1f77b4" stroke="#1a1a1a" stroke-width="0.6"/>
<circle cx="424.4" cy="391.7" r="1.45" fill="#1f77b4" stroke="#1a1a1a" stroke-width="0.6"/>
<circle cx="387.4" cy="382.7" r="1.45" fill="#1f77b4" stroke="#1a1a1a" stroke-width="0.6"/>
<circle cx="387.4" cy="387" r="1.45" fill="#1f77b4" stroke="#1a1a1a" stroke-width="0.6"/>
<circle cx="412" cy="379.1" r="1.45" fill="#d62728" stroke="#1a1a1a" stroke-width="0.6"/>
<circle cx="394.4" cy="384" r="1.45" fill="#d62728" stroke="#1a1a1a" stroke-width="0.6"/>
<circle cx="426.3" cy="385.8" r="1.45" fill="#d62728" stroke="#1a1a1a" stroke-width="0.6"/>
<circle cx="434.4" cy="388.6" r="1.45" fill="#d62728" stroke="#1a1a1a" stroke-width="0.6"/>
<circle cx="458.3" cy="382.2" r="1.45" fill="#d62728" stroke="#1a1a1a" stroke-width="0.6"/>
<circle cx="478.1" cy="385.1" r="1.45" fill="#d62728" stroke="#1a1a1a" stroke-width="0.6"/>
<circle cx="401" cy="391" r="1.45" fill="#d62728" stroke="#1a1a1a" stroke-width="0.6"/>
<circle cx="406.7" cy="390.9" r="1.45" fill="#d62728" stroke="#1a1a1a" stroke-width="0.6"/>
<circle cx="387.9" cy="400.1" r="1.45" fill="#d62728" stroke="#1a1a1a" stroke-width="0.6"/>
<circle cx="404.8" cy="401.8" r="1.45" fill="#d62728" stroke="#1a1a1a" stroke-width="0.6"/>
<circle cx="413.3" cy="404.8" r="1.45" fill="#d62728" stroke="#1a1a1a" stroke-width="0.6"/>
<circle cx="471.4" cy="402.2" r="1.45" fill="#d62728" stroke="#1a1a1a" stroke-width="0.6"/>
<circle cx="403.6" cy="407.3" r="1.45" fill="#d62728" stroke="#1a1a1a" stroke-width="0.6"/>
<circle cx="395.7" cy="410.7" r="1.45" fill="#d62728" stroke="#1a1a1a" stroke-width="0.6"/>
<circle cx="440.4" cy="411.3" r="1.45" fill="#d62728" stroke="#1a1a1a" stroke-width="0.6"/>
<circle cx="460.2" cy="412.5" r="1.45" fill="#d62728" stroke="#1a1a1a" stroke-width="0.6"/>
<circle cx="480" cy="416.8" r="1.45" fill="#d62728" stroke="#1a1a1a" stroke-width="0.6"/>
<circle cx="387.4" cy="416.1" r="1.45" fill="#d62728" stroke="#1a1a1a" stroke-width="0.6"/>
<circle cx="393.6" cy="415.5" r="1.45" fill="#d62728" stroke="#1a1a1a" stroke-width="0.6"/>
<circle cx="417.2" cy="414.9" r="1.45" fill="#d62728" stroke="#1a1a1a" stroke-width="0.6"/>
<circle cx="425.1" cy="418.5" r="1.45" fill="#d62728" stroke="#1a1a1a" stroke-width="0.6"/>
<circle cx="387.4" cy="421.6" r="1.45" fill="#d62728" stroke="#1a1a1a" stroke-width="0.6"/>
<circle cx="400.5" cy="422.5" r="1.45" fill="#d62728" stroke="#1a1a1a" stroke-width="0.6"/>
<circle cx="433.9" cy="422.1" r="1.45" fill="#d62728" stroke="#1a1a1a" stroke-width="0.6"/>
<circle cx="447" cy="424.4" r="1.45" fill="#d62728" stroke="#1a1a1a" stroke-width="0.6"/>
<circle cx="458.5" cy="422.5" r="1.45" fill="#d62728" stroke="#1a1a1a" stroke-width="0.6"/>
<circle cx="428" cy="426.3" r="1.45" fill="#d62728" stroke="#1a1a1a" stroke-width="0.6"/>
<circle cx="429.6" cy="427.5" r="1.45" fill="#d62728" stroke="#1a1a1a" stroke-width="0.6"/>
<circle cx="419.6" cy="428" r="1.45" fill="#d62728" stroke="#1a1a1a" stroke-width="0.6"/>
<circle cx="442.8" cy="428.5" r="1.45" fill="#d62728" stroke="#1a1a1a" stroke-width="0.6"/>
<circle cx="453.7" cy="431.1" r="1.45" fill="#d62728" stroke="#1a1a1a" stroke-width="0.6"/>
<circle cx="387.4" cy="426.3" r="1.45" fill="#d62728" stroke="#1a1a1a" stroke-width="0.6"/>
<circle cx="385.7" cy="431.6" r="1.45" fill="#d62728" stroke="#1a1a1a" stroke-width="0.6"/>
<circle cx="410.5" cy="435.9" r="1.45" fill="#d62728" stroke="#1a1a1a" stroke-width="0.6"/>
<circle cx="477.6" cy="440.4" r="1.45" fill="#d62728" stroke="#1a1a1a" stroke-width="0.6"/>
<circle cx="414.1" cy="444.2" r="1.45" fill="#d62728" stroke="#1a1a1a" stroke-width="0.6"/>
<circle cx="437.5" cy="444.7" r="1.45" fill="#d62728" stroke="#1a1a1a" stroke-width="0.6"/>
<circle cx="434.4" cy="447.8" r="1.45" fill="#d62728" stroke="#1a1a1a" stroke-width="0.6"/>
<circle cx="456.6" cy="450.7" r="1.45" fill="#d62728" stroke="#1a1a1a" stroke-width="0.6"/>
<circle cx="472.6" cy="451.9" r="1.45" fill="#d62728" stroke="#1a1a1a" stroke-width="0.6"/>
<circle cx="445.4" cy="453.1" r="1.45" fill="#d62728" stroke="#1a1a1a" stroke-width="0.6"/>
<circle cx="460.2" cy="463.3" r="1.45" fill="#d62728" stroke="#1a1a1a" stroke-width="0.6"/>
<circle cx="361.9" cy="415.2" r="1.45" fill="#d62728" stroke="#1a1a1a" stroke-width="0.6"/>
<circle cx="380.3" cy="433.6" r="1.45" fill="#d62728" stroke="#1a1a1a" stroke-width="0.6"/>
<circle cx="385.6" cy="431.2" r="1.45" fill="#d62728" stroke="#1a1a1a" stroke-width="0.6"/>
<circle cx="382.1" cy="414.4" r="1.45" fill="#d62728" stroke="#1a1a1a" stroke-width="0.6"/>
<circle cx="380.3" cy="401.3" r="1.45" fill="#d62728" stroke="#1a1a1a" stroke-width="0.6"/>
<circle cx="388" cy="400.3" r="1.45" fill="#d62728" stroke="#1a1a1a" stroke-width="0.6"/>
<circle cx="400.8" cy="391.5" r="1.45" fill="#d62728" stroke="#1a1a1a" stroke-width="0.6"/>
<ellipse cx="345.4" cy="381.5" rx="9.2" ry="2.8" transform="rotate(-4 345.4 381.5)" fill="none" stroke="#1f77b4" stroke-width="1.4" stroke-opacity="0.85"/>
<circle cx="345.4" cy="381.5" r="3.2" fill="#1f77b4" stroke="#fff" stroke-width="0.5"/>
<ellipse cx="407.2" cy="418.2" rx="8.8" ry="5.4" transform="rotate(27 407.2 418.2)" fill="none" stroke="#d62728" stroke-width="1.5"/>
<circle cx="407.2" cy="418.2" r="3" fill="#d62728" stroke="#fff" stroke-width="0.8"/>
</g>
<rect x="285.5" y="267.2" width="206.5" height="210" fill="none" stroke="#666666" stroke-width="1"/>
<line x1="306.15" y1="477.2" x2="306.15" y2="479.7" stroke="#666666" stroke-width="0.8" />
<text x="306.15" y="486.9" font-size="7.0" text-anchor="middle" fill="#262626" >−40</text>
<line x1="347.45" y1="477.2" x2="347.45" y2="479.7" stroke="#666666" stroke-width="0.8" />
<text x="347.45" y="486.9" font-size="7.0" text-anchor="middle" fill="#262626" >−20</text>
<line x1="388.75" y1="477.2" x2="388.75" y2="479.7" stroke="#666666" stroke-width="0.8" />
<text x="388.75" y="486.9" font-size="7.0" text-anchor="middle" fill="#262626" >0</text>
<line x1="430.05" y1="477.2" x2="430.05" y2="479.7" stroke="#666666" stroke-width="0.8" />
<text x="430.05" y="486.9" font-size="7.0" text-anchor="middle" fill="#262626" >20</text>
<line x1="471.35" y1="477.2" x2="471.35" y2="479.7" stroke="#666666" stroke-width="0.8" />
<text x="471.35" y="486.9" font-size="7.0" text-anchor="middle" fill="#262626" >40</text>
<line x1="283" y1="456.2" x2="285.5" y2="456.2" stroke="#666666" stroke-width="0.8" />
<text x="281.2" y="458.6" font-size="7.0" text-anchor="end" fill="#262626" >−40</text>
<line x1="283" y1="414.2" x2="285.5" y2="414.2" stroke="#666666" stroke-width="0.8" />
<text x="281.2" y="416.6" font-size="7.0" text-anchor="end" fill="#262626" >−20</text>
<line x1="283" y1="372.2" x2="285.5" y2="372.2" stroke="#666666" stroke-width="0.8" />
<text x="281.2" y="374.6" font-size="7.0" text-anchor="end" fill="#262626" >0</text>
<line x1="283" y1="330.2" x2="285.5" y2="330.2" stroke="#666666" stroke-width="0.8" />
<text x="281.2" y="332.6" font-size="7.0" text-anchor="end" fill="#262626" >20</text>
<line x1="283" y1="288.2" x2="285.5" y2="288.2" stroke="#666666" stroke-width="0.8" />
<text x="281.2" y="290.6" font-size="7.0" text-anchor="end" fill="#262626" >40</text>
<text x="389.2" y="495.9" font-size="7.4" text-anchor="middle" fill="#262626" textLength="132.3" lengthAdjust="spacingAndGlyphs" ><tspan font-style="italic">b</tspan><tspan font-size="4.8" dy="1.2">conv</tspan><tspan dy="-1.2">, Conversion Change (relative %)</tspan></text>
<text x="270.2" y="371.4" font-size="7.0" text-anchor="middle" fill="#262626" textLength="168.4" lengthAdjust="spacingAndGlyphs" transform="rotate(-90 270.2 371.4)" ><tspan font-style="italic">b</tspan><tspan font-size="4.8" dy="1.2">dyn+NL</tspan><tspan dy="-1.2">, Dynamical and NL Change (relative %)</tspan></text>
<text x="286" y="263.9" font-size="8.1" text-anchor="start" fill="#262626" textLength="198.8" lengthAdjust="spacingAndGlyphs" >d)JJA Central UK &amp; Ireland Forced Change Categorisation</text>
<rect x="401.5" y="269.9" width="88" height="63.8" rx="1.5" fill="#ffffff" fill-opacity="0.8" stroke="#d0d0d0" stroke-width="0.8"/>
<rect x="404" y="272.4" width="11.6" height="5.2" fill="#afcdf6" stroke="#000" stroke-width="1.1"/>
<text x="420.2" y="277.4" font-size="6.6" text-anchor="start" fill="#262626" >Dynamical Change</text>
<rect x="404" y="281.25" width="11.6" height="5.2" fill="#e5c879" stroke="#000" stroke-width="1.1"/>
<text x="420.2" y="286.25" font-size="6.6" text-anchor="start" fill="#262626" >Conversion Change</text>
<rect x="404" y="290.1" width="11.6" height="5.2" fill="#c8b6d8" stroke="#000" stroke-width="1.1"/>
<text x="420.2" y="295.1" font-size="6.6" text-anchor="start" fill="#262626" >Compounding Change</text>
<rect x="404" y="298.95" width="11.6" height="5.2" fill="#de7f8a" stroke="#000" stroke-width="1.1"/>
<text x="420.2" y="303.95" font-size="6.6" text-anchor="start" fill="#262626" >Compensating Change</text>
<rect x="404" y="307.8" width="11.6" height="5.2" fill="#7ef5a8" stroke="#000" stroke-width="1.1"/>
<text x="420.2" y="312.8" font-size="6.6" text-anchor="start" fill="#262626" >Minimal Change</text>
<circle cx="409.8" cy="319.3" r="2.3" fill="#1f77b4"/>
<text x="420.2" y="321.7" font-size="6.6" text-anchor="start" fill="#262626" >CESM2</text>
<circle cx="409.8" cy="328.3" r="2.3" fill="#d62728"/>
<text x="420.2" y="330.7" font-size="6.6" text-anchor="start" fill="#262626" >MPI-GE</text>
</svg></body></html>
